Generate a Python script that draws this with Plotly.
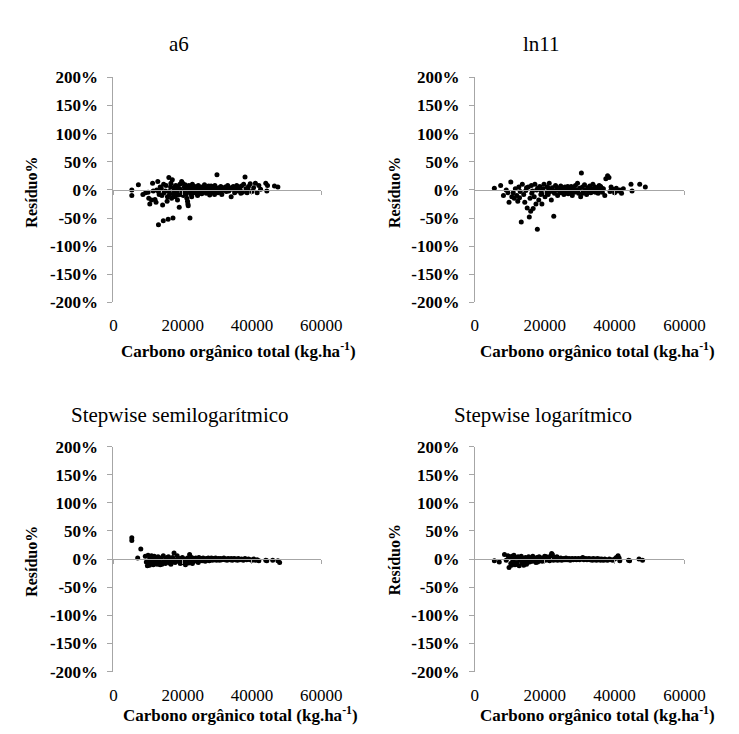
import plotly.graph_objects as go

# ---------------- data (kg/ha, residual %) ----------------
a6_x = [5300, 5300, 7200, 8500, 9300, 10000, 10200, 10500, 11000, 11300, 11500, 12000, 12300, 12800, 13000, 13000,
        13500, 14000, 14200, 14400, 14500, 15000, 15500, 15800, 16000, 16200, 16500, 16800, 17000, 17200, 17500, 17800,
        18000, 18300, 18500, 18800, 19000, 19200, 19500, 19800, 20000, 20200, 20500, 20800, 21000, 21200, 21400, 21500,
        21600, 21800, 22000, 22100, 22300, 22500, 22800, 23000, 23300, 23500, 23800, 24000, 24300, 24500, 24800, 25000,
        25300, 25500, 25800, 26000, 26300, 26500, 26800, 27000, 27300, 27500, 27800, 28000, 28300, 28500, 28800, 29000,
        29300, 29600, 29900, 30200, 30500, 30800, 31000, 31300, 31600, 32000, 32300, 32600, 33000, 33300, 33600, 34000,
        34300, 34600, 35000, 35300, 35600, 36000, 36300, 36600, 37000, 37300, 37600, 38000, 38300, 38600, 39000, 39500,
        40000, 40500, 41000, 41500, 42000, 42500, 44000, 44300, 44500, 46500, 47500,
        12500, 13200, 13800, 14600, 15200, 15600, 16100, 16600, 17300, 17700, 18200, 18700, 19300, 19700, 20300, 20700,
        21100, 21900, 22600, 23100, 24100, 25200, 26200, 27200, 28200, 29200, 30000, 31200, 32800, 34800, 36800, 38800]
a6_y = [0, -10, 9, -8, -5, -4, -15, -25, -18, 12, -2, -17, -22, 15, -3, -62,
        5, -10, -27, -55, 10, -2, -20, -52, 22, -8, 5, -15, 18, -50, 0, -12,
        8, -5, -18, 3, -31, 10, -8, -3, 12, -10, 5, -5, 2, -15, -20, -25,
        -28, 8, -3, -50, 4, -8, 10, 0, -5, 6, -2, 3, -10, 8, -4, 1,
        5, -7, 2, -3, 9, 0, -6, 4, -2, 7, -9, 2, -4, 5, 0, -3,
        8, 2, 27, -5, 4, -1, 6, -8, 3, 0, 5, -3, 8, -2, 4, -12,
        1, 6, -5, 3, 8, -2, 5, 0, 7, -4, 10, 23, 2, -5, 6, 11,
        -3, 4, 12, -5, 8, 1, 12, -2, 8, 7, 5,
        0, -8, 3, -5, 8, -12, -3, 12, -7, 6, -2, -9, 1, 15, -2, 9,
        -7, 3, -12, 6, -7, -2, 5, -5, 7, -8, 3, -3, 2, 2, -6, 1]

ln11_x = [5600, 7400, 8200, 9000, 9500, 9800, 10300, 10600, 11000, 11300, 11600, 12000, 12300, 12600, 13000, 13300,
          13600, 14000, 14300, 14600, 15000, 15300, 15600, 15800, 16000, 16200, 16500, 16700, 17000, 17200, 17500, 17900,
          18000, 18300, 18600, 18900, 19200, 19500, 19800, 20100, 20400, 20700, 21000, 21300, 21600, 21900, 22200, 22600,
          22800, 23100, 23400, 23700, 24000, 24300, 24600, 24900, 25200, 25500, 25800, 26100, 26400, 26700, 27000, 27300,
          27600, 27900, 28200, 28500, 28800, 29100, 29400, 29700, 30000, 30300, 30500, 30800, 31100, 31400, 31700, 32000,
          32300, 32600, 32900, 33200, 33500, 33800, 34100, 34400, 34700, 35000, 35300, 35600, 35900, 36200, 36500, 36800,
          37200, 37500, 38000, 38400, 38700, 39000, 39500, 40000, 40500, 41000, 41500, 42000, 42500, 44700, 45000, 47200,
          48800,
          12800, 14800, 16300, 17700, 19000, 20000, 21100, 22400, 23600, 25000, 26600, 27800, 29000, 30900, 32800, 34500,
          36000]
ln11_y = [3, 8, -10, 0, -5, -22, 14, -12, -5, -15, 2, -10, -20, 5, -3, -57,
          10, -8, -22, -1, -32, 5, -48, -15, -38, 8, -2, -33, -12, 10, -25, -70,
          3, -18, 6, -8, -25, 2, 10, -12, -4, 5, -8, 12, -3, -18, 4, -47,
          -6, 8, 0, -10, 3, -5, 7, -2, 2, -8, 5, -3, 1, -7, 4, -2,
          6, -10, 2, -4, 8, 0, 12, -6, 3, -12, 30, 5, -3, 9, 0, -8,
          4, -2, 7, -5, 2, 10, -3, 5, -1, 3, -6, 8, 0, 4, -4, 2,
          -10, 20, 25, 22, -3, 5, 1, -5, 3, -2, 0, -6, 2, 10, -2, 10,
          5,
          -14, 4, -6, 0, -2, -8, 3, -2, 4, -5, 6, -4, -3, -6, -1, -4,
          6]

ssl_x = [5300, 5300, 7000, 7900, 9200, 9500, 9800, 10000, 10200, 10500, 10800, 11000, 11300, 11500, 11800, 12000,
         12300, 12600, 12900, 13200, 13500, 13800, 14100, 14400, 14700, 15000, 15300, 15600, 15900, 16200, 16500, 16800,
         17100, 17500, 17800, 18100, 18400, 18700, 19000, 19300, 19600, 19900, 20200, 20500, 20800, 21100, 21400, 21700,
         22000, 22300, 22600, 22900, 23200, 23500, 23800, 24100, 24400, 24700, 25000, 25300, 25600, 25900, 26200, 26500,
         26800, 27100, 27400, 27700, 28000, 28300, 28600, 28900, 29200, 29500, 29800, 30100, 30400, 30700, 31000, 31300,
         31600, 31900, 32200, 32500, 32800, 33100, 33400, 33700, 34000, 34300, 34600, 34900, 35200, 35500, 35800, 36100,
         36500, 37000, 37500, 38000, 38500, 39000, 39500, 40000, 40500, 41000, 41500, 42000, 44000, 44300, 46000, 47500,
         48000,
         10400, 11100, 12100, 13000, 14000, 15500, 16600, 17300, 19800, 21000, 22800, 24500]
ssl_y = [38, 33, 2, 18, 5, -5, -12, 7, -3, 2, -8, 6, -2, -10, 5, -6,
         1, -9, 4, -4, -10, 2, -6, 6, -3, -8, 1, -5, 4, -7, 0, -4,
         3, 11, -6, -2, 6, -4, 1, -8, -3, 3, -6, 0, -10, -4, 2, -7,
         8, -2, 3, -5, 1, -3, 2, -4, 0, 3, -2, 1, -3, 2, -1, -4,
         1, -2, 2, -3, 0, 2, -2, 1, -1, 2, -2, 0, 1, -2, 1, -1,
         0, 2, -1, 0, -2, 1, 0, -1, 1, -2, 0, 1, -1, 0, -2, 1,
         -1, 0, -2, 1, -1, 0, -1, -2, 0, -2, -1, -3, -2, -3, -2, -3,
         -6,
         -11, -6, -3, -1, -9, 3, -9, -3, -6, -1, -8, -6]

sl_x = [5600, 7000, 8500, 9000, 9500, 9800, 10000, 10300, 10600, 10900, 11200, 11500, 11800, 12100, 12400, 12700,
        13000, 13300, 13600, 13900, 14200, 14500, 14800, 15100, 15400, 15700, 16000, 16300, 16600, 16900, 17200, 17500,
        17800, 18100, 18400, 18700, 19000, 19300, 19600, 19900, 20200, 20500, 20800, 21100, 21400, 21700, 22000, 22200,
        22500, 22800, 23100, 23400, 23700, 24000, 24300, 24600, 24900, 25200, 25500, 25800, 26100, 26400, 26700, 27000,
        27300, 27600, 27900, 28200, 28500, 28800, 29100, 29400, 29700, 30000, 30300, 30600, 30900, 31200, 31500, 31800,
        32100, 32400, 32700, 33000, 33300, 33600, 33900, 34200, 34500, 34800, 35100, 35400, 35700, 36000, 36300, 36600,
        36900, 37200, 37600, 38000, 38500, 39000, 39500, 40000, 40500, 41000, 41300, 41500, 44000, 44300, 47000, 48000,
        10500, 11000, 12000, 13500, 14000, 15000, 16500, 18000, 20000, 23500]
sl_y = [-3, -5, 8, -2, 6, -15, 3, -8, 5, -4, 7, -10, 2, -6, 4, -12,
        -2, 5, -7, 1, -4, 3, -9, 0, 4, -5, 2, -3, 5, -2, 1, -6,
        3, -1, 4, -3, 2, -4, 1, 3, -2, 4, -1, 2, -3, 6, 10, 8,
        -2, 3, -1, 2, -2, 1, -1, 2, -2, 0, 1, -1, 2, -1, 0, 1,
        -2, 0, 1, -1, 0, 1, -1, 0, 1, -1, 0, 1, 3, -1, 0, 1,
        -1, 0, 1, -1, 0, -2, 1, -1, 0, -2, 1, -1, 0, -2, 0, -1,
        -2, 0, -1, -2, 0, -1, -2, 0, 3, 6, 2, -3, -2, -3, 0, -2,
        -11, -2, -9, -4, -11, -6, -4, -5, 5, 4]

titles = ["a6", "ln11", "Stepwise semilogarítmico", "Stepwise logarítmico"]
series = [(a6_x, a6_y), (ln11_x, ln11_y), (ssl_x, ssl_y), (sl_x, sl_y)]
y_ticks = [-200, -150, -100, -50, 0, 50, 100, 150, 200]
y_ticktext = ["-200%", "-150%", "-100%", "-50%", "0%", "50%", "100%", "150%", "200%"]
x_ticks = [0, 20000, 40000, 60000]
x_ticktext = ["0", "20000", "40000", "60000"]
x_title = "Carbono orgânico total (kg.ha<sup>-1</sup>)"
y_title = "Resíduo%"

# ---------------- layout geometry (pixels) ----------------
W, H = 739, 734
GRAY = "#a6a6a6"
FONT = "Liberation Serif"
panels = [  # x0, x1, ytop, ybottom
    (105, 320, 62, 293),
    (479, 696, 62, 293),
    (105, 320, 441, 672),
    (479, 696, 441, 672),
]
title_pos = [(173, 28), (548, 28), (174, 409), (550, 409)]
xtitle_pos = [(234, 342), (606, 342), (236, 716), (606, 716)]
ytitle_pos = [(20, 180), (396, 180), (20, 559), (396, 557)]

fig = go.Figure()
layout = dict(
    width=W, height=H, margin=dict(l=0, r=0, t=0, b=0),
    paper_bgcolor="white", plot_bgcolor="white", showlegend=False,
    font=dict(family=FONT, color="black"),
)
annotations = []

for i, ((x0, x1, yt, yb), (xs, ys)) in enumerate(zip(panels, series)):
    n = i + 1
    sx = "" if n == 1 else str(n)
    zx = str(n + 4)
    fig.add_trace(go.Scatter(x=xs, y=ys, mode="markers", xaxis="x" + sx, yaxis="y" + sx,
                             marker=dict(size=5, color="black"), hoverinfo="x+y"))
    # empty trace to activate the zero-line axis
    fig.add_trace(go.Scatter(x=[None], y=[None], mode="markers", xaxis="x" + zx, yaxis="y" + sx,
                             showlegend=False, hoverinfo="skip"))
    dom_y = [1 - yb / H, 1 - yt / H]
    layout["xaxis" + sx] = dict(
        domain=[x0 / W, x1 / W], anchor="y" + sx, range=[0, 60000],
        showline=False, showgrid=False, zeroline=False,
        tickvals=x_ticks, ticktext=x_ticktext, ticks="", ticklabelstandoff=11,
        tickfont=dict(family=FONT, size=17, color="black"),
    )
    layout["yaxis" + sx] = dict(
        domain=dom_y, anchor="x" + sx, range=[-200, 200],
        showline=True, linecolor=GRAY, linewidth=1, showgrid=False, zeroline=False,
        tickvals=y_ticks, ticktext=y_ticktext, ticks="outside", ticklen=5, tickcolor=GRAY,
        ticklabelstandoff=6,
        tickfont=dict(family=FONT, size=17, color="black", weight="bold"),
    )
    zero_pos = (dom_y[0] + dom_y[1]) / 2
    layout["xaxis" + zx] = dict(
        overlaying="x" + sx, anchor="free", position=zero_pos, range=[0, 60000],
        showline=True, linecolor=GRAY, linewidth=1, showgrid=False, zeroline=False,
        tickvals=x_ticks, ticks="outside", ticklen=4, tickcolor=GRAY, showticklabels=False,
    )
    tx, ty = title_pos[i]
    annotations.append(dict(text=titles[i], x=tx / W, y=1 - ty / H, xref="paper", yref="paper",
                            showarrow=False, xanchor="center", yanchor="middle",
                            font=dict(family=FONT, size=21, color="black")))
    ax, ay = xtitle_pos[i]
    annotations.append(dict(text="<b>" + x_title + "</b>", x=ax / W, y=1 - ay / H, xref="paper", yref="paper",
                            showarrow=False, xanchor="center", yanchor="middle",
                            font=dict(family=FONT, size=17, color="black")))
    yx, yy = ytitle_pos[i]
    annotations.append(dict(text="<b>" + y_title + "</b>", x=yx / W, y=1 - yy / H, xref="paper", yref="paper",
                            showarrow=False, xanchor="center", yanchor="middle", textangle=-90,
                            font=dict(family=FONT, size=16, color="black")))

layout["annotations"] = annotations
fig.update_layout(**layout)
fig.write_html("out.html")
